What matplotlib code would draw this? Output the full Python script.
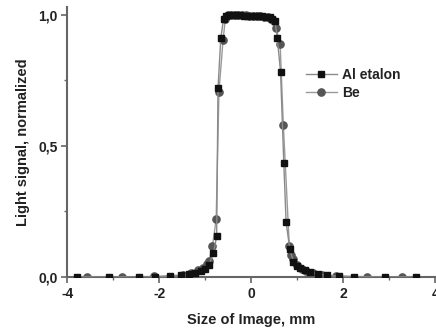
import matplotlib
matplotlib.use("Agg")
import matplotlib.pyplot as plt
from matplotlib.ticker import FixedLocator

plt.rcParams['font.family'] = ['Liberation Sans', 'DejaVu Sans']

al_x = [-3.78, -3.10, -2.43, -2.09, -1.76, -1.52, -1.35, -1.22, -1.10, -1.00, -0.92, -0.82, -0.75,
        -0.72, -0.66, -0.60, -0.55, -0.48, -0.40, -0.32, -0.24, -0.16, -0.08, 0.00, 0.08, 0.16,
        0.24, 0.32, 0.40, 0.46, 0.52, 0.57, 0.64, 0.71, 0.76, 0.84, 0.92, 0.99, 1.07, 1.17, 1.28,
        1.46, 1.65, 1.91, 2.24, 2.92, 3.59]
al_y = [0.000, 0.000, 0.000, 0.000, 0.003, 0.006, 0.010, 0.015, 0.022, 0.030, 0.045, 0.090, 0.155,
        0.720, 0.910, 0.985, 0.995, 1.000, 1.000, 0.998, 0.998, 0.997, 0.997, 0.996, 0.995, 0.995,
        0.994, 0.992, 0.990, 0.985, 0.975, 0.910, 0.780, 0.435, 0.210, 0.107, 0.058, 0.042, 0.034,
        0.027, 0.020, 0.011, 0.007, 0.003, 0.001, 0.000, 0.000]

be_x = [-3.57, -2.81, -2.12, -1.48, -1.30, -1.15, -1.05, -0.97, -0.91, -0.84, -0.76, -0.70, -0.61,
        -0.56, -0.50, -0.44, -0.36, -0.28, -0.20, -0.12, -0.04, 0.04, 0.12, 0.20, 0.28, 0.36, 0.43,
        0.50, 0.54, 0.63, 0.70, 0.83, 0.86, 0.91, 1.00, 1.10, 1.20, 1.35, 1.55, 1.85, 2.52, 3.28]
be_y = [0.000, 0.000, 0.002, 0.008, 0.015, 0.025, 0.035, 0.050, 0.062, 0.120, 0.220, 0.706, 0.905,
        0.985, 0.998, 1.000, 1.000, 0.999, 0.998, 0.998, 0.997, 0.997, 0.996, 0.995, 0.993, 0.990,
        0.985, 0.975, 0.950, 0.890, 0.580, 0.118, 0.084, 0.070, 0.045, 0.032, 0.024, 0.015, 0.008,
        0.004, 0.001, 0.000]

fig = plt.figure(figsize=(4.36, 3.29), dpi=100)
ax = fig.add_axes([0.154, 0.158, 0.844, 0.821])

ax.plot(al_x, al_y, color='#8a8a8a', lw=1.0, marker='s', ms=4.8, mfc='#111111', mec='#111111',
        label='Al etalon', zorder=3)
ax.plot(be_x, be_y, color='#9a9a9a', lw=1.0, marker='o', ms=5.2, mfc='#555555', mec='#555555',
        label='Be', zorder=2)

ax.set_xlim(-4, 4)
ax.set_ylim(0.0, 1.03)
ax.xaxis.set_major_locator(FixedLocator([-4, -2, 0, 2, 4]))
ax.xaxis.set_minor_locator(FixedLocator([-3, -1, 1, 3]))
ax.yaxis.set_major_locator(FixedLocator([0.0, 0.5, 1.0]))
ax.yaxis.set_minor_locator(FixedLocator([0.25, 0.75]))
ax.set_yticklabels(['0,0', '0,5', '1,0'])
ax.set_xticklabels(['-4', '-2', '0', '2', '4'])

for s in ['top', 'right']:
    ax.spines[s].set_visible(False)
for s in ['left', 'bottom']:
    ax.spines[s].set_color('#666666')
    ax.spines[s].set_linewidth(1.5)

ax.tick_params(which='major', direction='out', length=4, width=1.2, color='#666666',
               labelsize=10, pad=3)
ax.tick_params(which='minor', direction='out', length=2, width=1.0, color='#666666')
for lab in ax.get_xticklabels() + ax.get_yticklabels():
    lab.set_fontweight('bold')
    lab.set_color('#222222')

ax.set_xlabel('Size of Image, mm', fontsize=10.5, fontweight='bold', color='#222222', labelpad=9)
ax.set_ylabel('Light signal, normalized', fontsize=10.5, fontweight='bold', color='#222222', labelpad=6)

leg = ax.legend(loc='center left', bbox_to_anchor=(0.615, 0.715), frameon=False,
                prop={'weight': 'bold', 'size': 10}, handlelength=2.2, handletextpad=0.4,
                labelspacing=0.25)
for t in leg.get_texts():
    t.set_color('#222222')

fig.savefig('out.png', dpi=100)
